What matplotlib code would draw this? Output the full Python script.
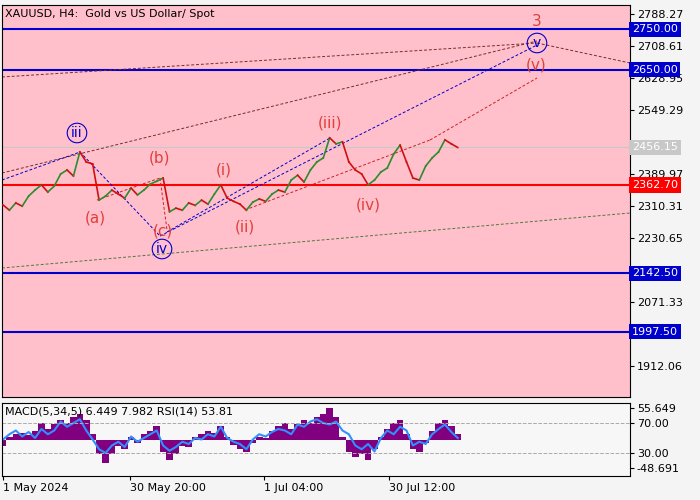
import numpy as np
import matplotlib.pyplot as plt

# price closes, one every 1.5 days from 1 May 2024
closes = [2313, 2300, 2318, 2310, 2335, 2350, 2363, 2345, 2360, 2390, 2400, 2385, 2445, 2420,
          2415, 2325, 2335, 2350, 2340, 2330, 2355, 2338, 2350, 2365, 2372, 2380, 2296, 2305,
          2300, 2318, 2312, 2325, 2315, 2340, 2363, 2330, 2322, 2315, 2300, 2320, 2328, 2322,
          2340, 2350, 2345, 2375, 2387, 2370, 2400, 2420, 2430, 2480, 2465, 2470, 2420, 2400,
          2390, 2363, 2375, 2395, 2405, 2440, 2462, 2420, 2380, 2375, 2410, 2430, 2445, 2475,
          2465, 2456]
hist = [-10, 5, 10, 12, 8, 15, 30, 20, 28, 35, 30, 40, 45, 35, 10, -25, -40, -25, -10, -15,
        5, -5, 10, 15, 25, -20, -35, -25, -10, -12, 5, 10, 15, 12, 25, 5, -8, -15, -20, -5,
        5, 3, 15, 25, 30, 20, 28, 35, 30, 40, 45, 55, 40, 5, -20, -30, -25, -35, -15, 5,
        20, 30, 35, 10, -15, -20, -5, 15, 30, 35, 25, 10]
rsi = [48, 55, 60, 52, 58, 50, 62, 55, 60, 72, 65, 70, 75, 60, 48, 35, 30, 40, 45, 38,
       52, 45, 50, 55, 60, 40, 33, 38, 45, 42, 50, 48, 55, 52, 65, 50, 45, 42, 35, 48,
       55, 52, 58, 62, 60, 55, 68, 65, 72, 75, 70, 68, 72, 60, 55, 40, 35, 42, 32, 50,
       60, 55, 65, 60, 40, 45, 42, 55, 62, 68, 58, 50]
levels_blue = [2750.00, 2650.00, 2142.50, 1997.50]
level_red = 2362.70
last_price = 2456.15
price_ticks = [2788.27, 2708.61, 2628.95, 2549.29, 2389.97, 2310.31, 2230.65, 2071.33, 1912.06]
date_ticks = [0, 29.83, 61.17, 90.5]
date_labels = ['1 May 2024', '30 May 20:00', '1 Jul 04:00', '30 Jul 12:00']

# day <-> pixel helpers for the drawn annotations
def dx(px):
    return (px - 3) / 4.27

def py(p):
    return 2788.27 - (p - 14) * 2.489

fig = plt.figure(figsize=(7, 5), dpi=100, facecolor='#f4f4f4')
ax = fig.add_axes([2/700, 103/500, 628/700, 392/500])
ax2 = fig.add_axes([2/700, 24/500, 628/700, 73/500])
xmin, xmax = dx(2), dx(630)
for a in (ax, ax2):
    a.set_xlim(xmin, xmax)
    a.yaxis.tick_right()
    a.tick_params(labelsize=8, length=3, pad=2)
ax.set_facecolor('#ffc0cb')
ax2.set_facecolor('#f7f7f7')
ax.set_ylim(py(397), py(5))

d = np.arange(len(closes)) * 1.5
for i in range(1, len(closes)):
    col = '#2e8b2e' if closes[i] >= closes[i-1] else '#d01010'
    ax.plot([d[i-1], d[i]], [closes[i-1], closes[i]], color=col, lw=1.2, zorder=3)

for lv in levels_blue:
    ax.axhline(lv, color='#0000cc', lw=1.5)
ax.axhline(level_red, color='#ff0000', lw=1.5)
ax.axhline(last_price, color='#c8c8c8', lw=0.8)

dash = dict(lw=0.7, ls=(0, (3, 2)))
segs = [((2, 77), (537, 43), '#7a2a2a'), ((2, 173), (537, 41), '#7a2a2a'),
        ((537, 43), (630, 63), '#7a2a2a'), ((2, 268), (630, 213), '#4a7a3a'),
        ((160, 236), (537, 45), '#0000cc'), ((430, 140), (537, 78), '#cc2222'),
        ((80, 152), (160, 236), '#0000cc'), ((2, 180), (80, 152), '#0000cc'),
        ((97, 200), (160, 178), '#cc2222'), ((160, 178), (167, 230), '#cc2222'),
        ((167, 232), (330, 138), '#0000cc'), ((245, 210), (430, 140), '#cc2222')]
for (x0, y0), (x1, y1), c in segs:
    ax.plot([dx(x0), dx(x1)], [py(y0), py(y1)], color=c, **dash, zorder=2)

red = '#e0403a'
for txt, x, y in [('(a)', 95, 218), ('(b)', 160, 158), ('(c)', 163, 231), ('(i)', 224, 170),
                  ('(ii)', 245, 227), ('(iii)', 330, 123), ('(iv)', 368, 205),
                  ('(v)', 536, 65), ('3', 537, 22)]:
    ax.text(dx(x), py(y), txt, color=red, fontsize=11, ha='center', va='center')
for txt, x, y in [('iii', 77, 133), ('iv', 162, 249), ('v', 537, 43)]:
    ax.text(dx(x), py(y), txt, color='#0000cc', fontsize=10, ha='center', va='center',
            bbox=dict(boxstyle='circle,pad=0.2', fc='none', ec='#0000cc', lw=0.8))

ax.set_yticks(price_ticks)
ax.set_yticklabels([f'{t:.2f}' for t in price_ticks])
ax.set_xticks([])
for lv, fc, tc in [(2750, '#0000cc', 'white'), (2650, '#0000cc', 'white'),
                   (2142.5, '#0000cc', 'white'), (1997.5, '#0000cc', 'white'),
                   (level_red, '#ff0000', 'white'), (last_price, '#c8c8c8', 'white')]:
    ax.text(1.003, lv, f'{lv:.2f}', transform=ax.get_yaxis_transform(), fontsize=8,
            color=tc, va='center', ha='left',
            bbox=dict(boxstyle='square,pad=0.25', fc=fc, ec='none'))
ax.text(0.005, 0.99, 'XAUUSD, H4:  Gold vs US Dollar/ Spot', transform=ax.transAxes,
        fontsize=8, va='top')

# lower panel: RSI units, MACD histogram mapped around 47.3
scale = 0.767
dh = np.arange(len(hist)) * 1.5
ax2.bar(dh, np.array(hist) * scale, bottom=47.3, width=1.55, color='#800080')
dr = np.arange(len(rsi)) * 1.5
ax2.plot(dr, rsi, color='#3090ff', lw=1.5)
ax2.set_ylim(-0.7, 96.7)
for v in (70, 30):
    ax2.axhline(v, color='#aaaaaa', lw=0.7, ls='--')
ax2.set_yticks([47.3 + 55.649 * scale, 70, 30, 47.3 - 48.691 * scale])
ax2.set_yticklabels(['55.649', '70.00', '30.00', '-48.691'])
ax2.set_xticks(date_ticks)
ax2.set_xticklabels(date_labels, ha='left')
ax2.text(0.005, 0.95, 'MACD(5,34,5) 6.449 7.982 RSI(14) 53.81', transform=ax2.transAxes,
         fontsize=8, va='top')

fig.savefig('out.png', dpi=100, facecolor=fig.get_facecolor())
